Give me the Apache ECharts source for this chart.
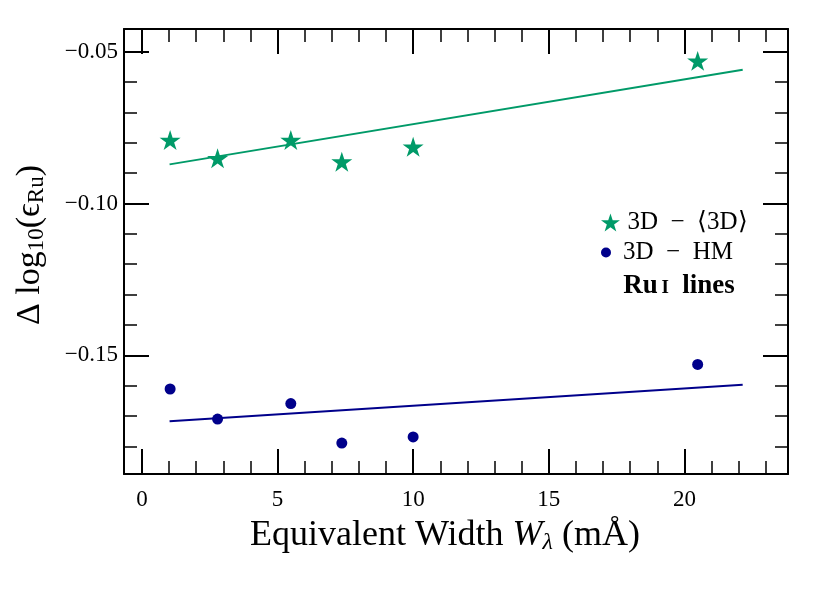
<!DOCTYPE html>
<html>
<head>
<meta charset="utf-8">
<script src="https://cdn.jsdelivr.net/npm/echarts@6/dist/echarts.min.js"></script>
<style>
  html, body { margin: 0; padding: 0; background: #fff; }
  #chart { width: 830px; height: 593px; }
</style>
</head>
<body>
<div id="chart"></div>
<script>
// equivalent widths (mA) of the Ru I lines
const ewX = [1.04, 2.79, 5.49, 7.37, 10.0, 20.49]
// abundance differences
const diffMean = [-0.0791, -0.0851, -0.0791, -0.0862, -0.0813, -0.0530]
const diffHM = [-0.1611, -0.1710, -0.1659, -0.1789, -0.1769, -0.1530]
// linear fits (end points)
const fitX = [1.02, 22.15]
const fitMean = [-0.0871, -0.0559]
const fitHM = [-0.1717, -0.1597]

// ticks
const xMajor = [0, 5, 10, 15, 20]
const xMinor = [0, 1, 2, 3, 4, 5, 6, 7, 8, 9, 10, 11, 12, 13, 14, 15, 16, 17, 18, 19, 20, 21, 22, 23]
const yMajor = [-0.15, -0.10, -0.05]
const yMinor = [-0.18, -0.17, -0.16, -0.15, -0.14, -0.13, -0.12, -0.11, -0.10, -0.09, -0.08, -0.07, -0.06, -0.05]

const GREEN = '#009a68'
const BLUE = '#00008b'
const FONT = 'Liberation Serif'
const STAR = 'path://M50,0 L61.2,34.5 L97.6,34.5 L68.2,55.9 L79.4,90.5 L50,69.1 L20.6,90.5 L31.8,55.9 L2.4,34.5 L38.8,34.5 Z'

const xRange = { min: -0.66, max: 23.82 }
const yRange = { min: -0.1891, max: -0.0425 }

const minus = (s) => String(s).replace('-', '\u2212')

function xAxisDef(position, major, withLine, withLabel) {
  return {
    type: 'value', position, ...xRange,
    axisLine: { show: withLine, onZero: false, lineStyle: { color: '#000', width: 2 } },
    axisTick: {
      show: true, inside: true, length: major ? 25 : 13,
      customValues: major ? xMajor : xMinor,
      lineStyle: { color: '#000', width: major ? 2 : 1.5 }
    },
    axisLabel: {
      show: withLabel, customValues: xMajor, margin: 14,
      color: '#000', fontFamily: FONT, fontSize: 23,
      formatter: (v) => String(v)
    },
    splitLine: { show: false }
  }
}

function yAxisDef(position, major, withLine, withLabel) {
  return {
    type: 'value', position, ...yRange,
    axisLine: { show: withLine, onZero: false, lineStyle: { color: '#000', width: 2 } },
    axisTick: {
      show: true, inside: true, length: major ? 25 : 13,
      customValues: major ? yMajor : yMinor,
      lineStyle: { color: '#000', width: major ? 2 : 1.5 }
    },
    axisLabel: {
      show: withLabel, customValues: yMajor, margin: 6,
      color: '#000', fontFamily: FONT, fontSize: 23,
      formatter: (v) => minus(v.toFixed(2))
    },
    splitLine: { show: false }
  }
}

const chart = echarts.init(document.getElementById('chart'))

const pts = (ys) => ewX.map((x, i) => [x, ys[i]])
const fit = (ys) => fitX.map((x, i) => [x, ys[i]])

const legendText = { color: '#000', fontFamily: FONT, fontSize: 25 }
const nameMean = '3D  \u2212  \u27E83D\u27E9'
const nameHM = '3D  \u2212  HM'

chart.setOption({
  animation: false,
  grid: { left: 124, right: 42, top: 29, bottom: 119 },
  xAxis: [
    xAxisDef('bottom', false, true, true),
    xAxisDef('bottom', true, false, false),
    xAxisDef('top', false, true, false),
    xAxisDef('top', true, false, false)
  ],
  yAxis: [
    yAxisDef('left', false, true, true),
    yAxisDef('left', true, false, false),
    yAxisDef('right', false, true, false),
    yAxisDef('right', true, false, false)
  ],
  legend: [
    {
      data: [nameMean],
      left: 596, top: 205, orient: 'vertical',
      itemWidth: 24, itemHeight: 18,
      textStyle: legendText
    },
    {
      data: [nameHM],
      left: 596, top: 235, orient: 'vertical',
      itemWidth: 24, itemHeight: 10,
      textStyle: legendText
    }
  ],
  series: [
    {
      name: nameMean,
      type: 'scatter',
      data: pts(diffMean),
      symbol: STAR, symbolSize: 21, symbolKeepAspect: true,
      itemStyle: { color: GREEN, opacity: 1 },
      z: 5
    },
    {
      name: nameHM,
      type: 'scatter',
      data: pts(diffHM),
      symbol: 'circle', symbolSize: 11,
      itemStyle: { color: BLUE, opacity: 1 },
      z: 5
    },
    {
      name: 'fitMean', type: 'line', data: fit(fitMean),
      showSymbol: false, lineStyle: { color: GREEN, width: 2 }, z: 3
    },
    {
      name: 'fitHM', type: 'line', data: fit(fitHM),
      showSymbol: false, lineStyle: { color: BLUE, width: 2 }, z: 3
    }
  ],
  graphic: [
    {
      type: 'text', x: 445, y: 536,
      style: {
        text: '{n|Equivalent Width }{i|W}{s|\u03BB}{n| (m\u00C5)}',
        align: 'center', verticalAlign: 'middle', fill: '#000',
        rich: {
          n: { fontFamily: FONT, fontSize: 36, lineHeight: 38, verticalAlign: 'middle' },
          i: { fontFamily: FONT, fontSize: 36, lineHeight: 38, fontStyle: 'italic', verticalAlign: 'middle' },
          s: { fontFamily: FONT, fontSize: 24, lineHeight: 24, fontStyle: 'italic', verticalAlign: 'bottom' }
        }
      }
    },
    {
      type: 'text', x: 30, y: 245, rotation: Math.PI / 2,
      style: {
        text: '{n|\u0394 log}{s|10}{n|(\u03F5}{s|Ru}{n|)}',
        align: 'center', verticalAlign: 'middle', fill: '#000',
        rich: {
          n: { fontFamily: FONT, fontSize: 34, lineHeight: 36, verticalAlign: 'middle' },
          s: { fontFamily: FONT, fontSize: 23, lineHeight: 22, verticalAlign: 'bottom' }
        }
      }
    },
    {
      type: 'text', x: 679, y: 286,
      style: {
        text: '{b|Ru}{c|\u2009I}{b|  lines}',
        align: 'center', verticalAlign: 'middle', fill: '#000',
        rich: {
          b: { fontFamily: FONT, fontSize: 27, fontWeight: 'bold', lineHeight: 28, verticalAlign: 'middle' },
          c: { fontFamily: FONT, fontSize: 19, fontWeight: 'bold', lineHeight: 24, verticalAlign: 'middle', padding: [4, 0, 0, 0] }
        }
      }
    }
  ]
})

window.addEventListener('resize', () => chart.resize())
</script>
</body>
</html>
